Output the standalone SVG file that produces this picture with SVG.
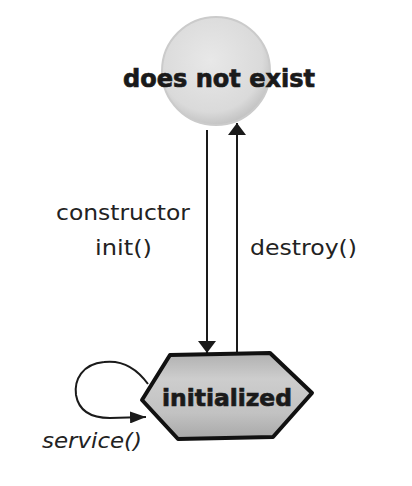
<svg xmlns="http://www.w3.org/2000/svg" width="412" height="486" viewBox="0 0 412 486">
<defs>
<radialGradient id="gc" cx="0.45" cy="0.4" r="0.6">
<stop offset="0" stop-color="#e8e8e8"/>
<stop offset="0.8" stop-color="#dadada"/>
<stop offset="1" stop-color="#c4c4c4"/>
</radialGradient>
<linearGradient id="gh" x1="0" y1="0" x2="0" y2="1">
<stop offset="0" stop-color="#b0b0b0"/>
<stop offset="0.3" stop-color="#cdcdcd"/>
<stop offset="0.7" stop-color="#c2c2c2"/>
<stop offset="1" stop-color="#a8a8a8"/>
</linearGradient>
<marker id="ah" viewBox="0 0 12 18" refX="12" refY="9" markerWidth="12" markerHeight="18" markerUnits="userSpaceOnUse" orient="auto">
<path d="M0,0 L12,9 L0,18 Z" fill="#1a1a1a"/>
</marker>
<marker id="ahs" viewBox="0 0 16 12" refX="16" refY="6" markerWidth="16" markerHeight="12" markerUnits="userSpaceOnUse" orient="auto">
<path d="M0,0 L16,6 L0,12 Z" fill="#1a1a1a"/>
</marker>
</defs>
<style>
.node-title{font-family:"DejaVu Sans",sans-serif;font-weight:bold;fill:#1a1a1a;stroke:#1a1a1a;stroke-width:0.7}
.lbl{font-family:"Comic Sans MS","DejaVu Sans",sans-serif;font-size:22px;fill:#222}
.conn{stroke:#1a1a1a;stroke-width:2;fill:none}
</style>
<rect width="412" height="486" fill="#ffffff"/>
<g id="connectors">
<line class="conn" x1="207" y1="130" x2="207" y2="353" marker-end="url(#ah)"/>
<line class="conn" x1="237" y1="352" x2="237" y2="123" marker-end="url(#ah)"/>
<path class="conn" d="M148,384 C135,366 120,360 104,362 C82,364 74,380 76,395 C79,412 92,418 110,418 L146,417" marker-end="url(#ahs)"/>
</g>
<g id="does-not-exist">
<circle cx="216" cy="71" r="54" fill="url(#gc)" stroke="#cbcbcb" stroke-width="2"/>
<text class="node-title" x="219" y="87" font-size="24" text-anchor="middle" textLength="192" lengthAdjust="spacingAndGlyphs">does not exist</text>
</g>
<g id="initialized">
<path d="M170,355 L270,353 L312,393 L273,437 L178,439 L142,400 Z" fill="url(#gh)" stroke="#111" stroke-width="4" stroke-linejoin="round"/>
<text class="node-title" x="227" y="406" font-size="23" text-anchor="middle" textLength="130" lengthAdjust="spacingAndGlyphs">initialized</text>
</g>
<g id="labels">
<text class="lbl" x="56" y="220" textLength="134" lengthAdjust="spacingAndGlyphs">constructor</text>
<text class="lbl" x="95" y="255" textLength="57" lengthAdjust="spacingAndGlyphs">init()</text>
<text class="lbl" x="250" y="255" textLength="107" lengthAdjust="spacingAndGlyphs">destroy()</text>
<text class="lbl" x="42" y="448" font-style="italic" textLength="100" lengthAdjust="spacingAndGlyphs">service()</text>
</g>
</svg>
